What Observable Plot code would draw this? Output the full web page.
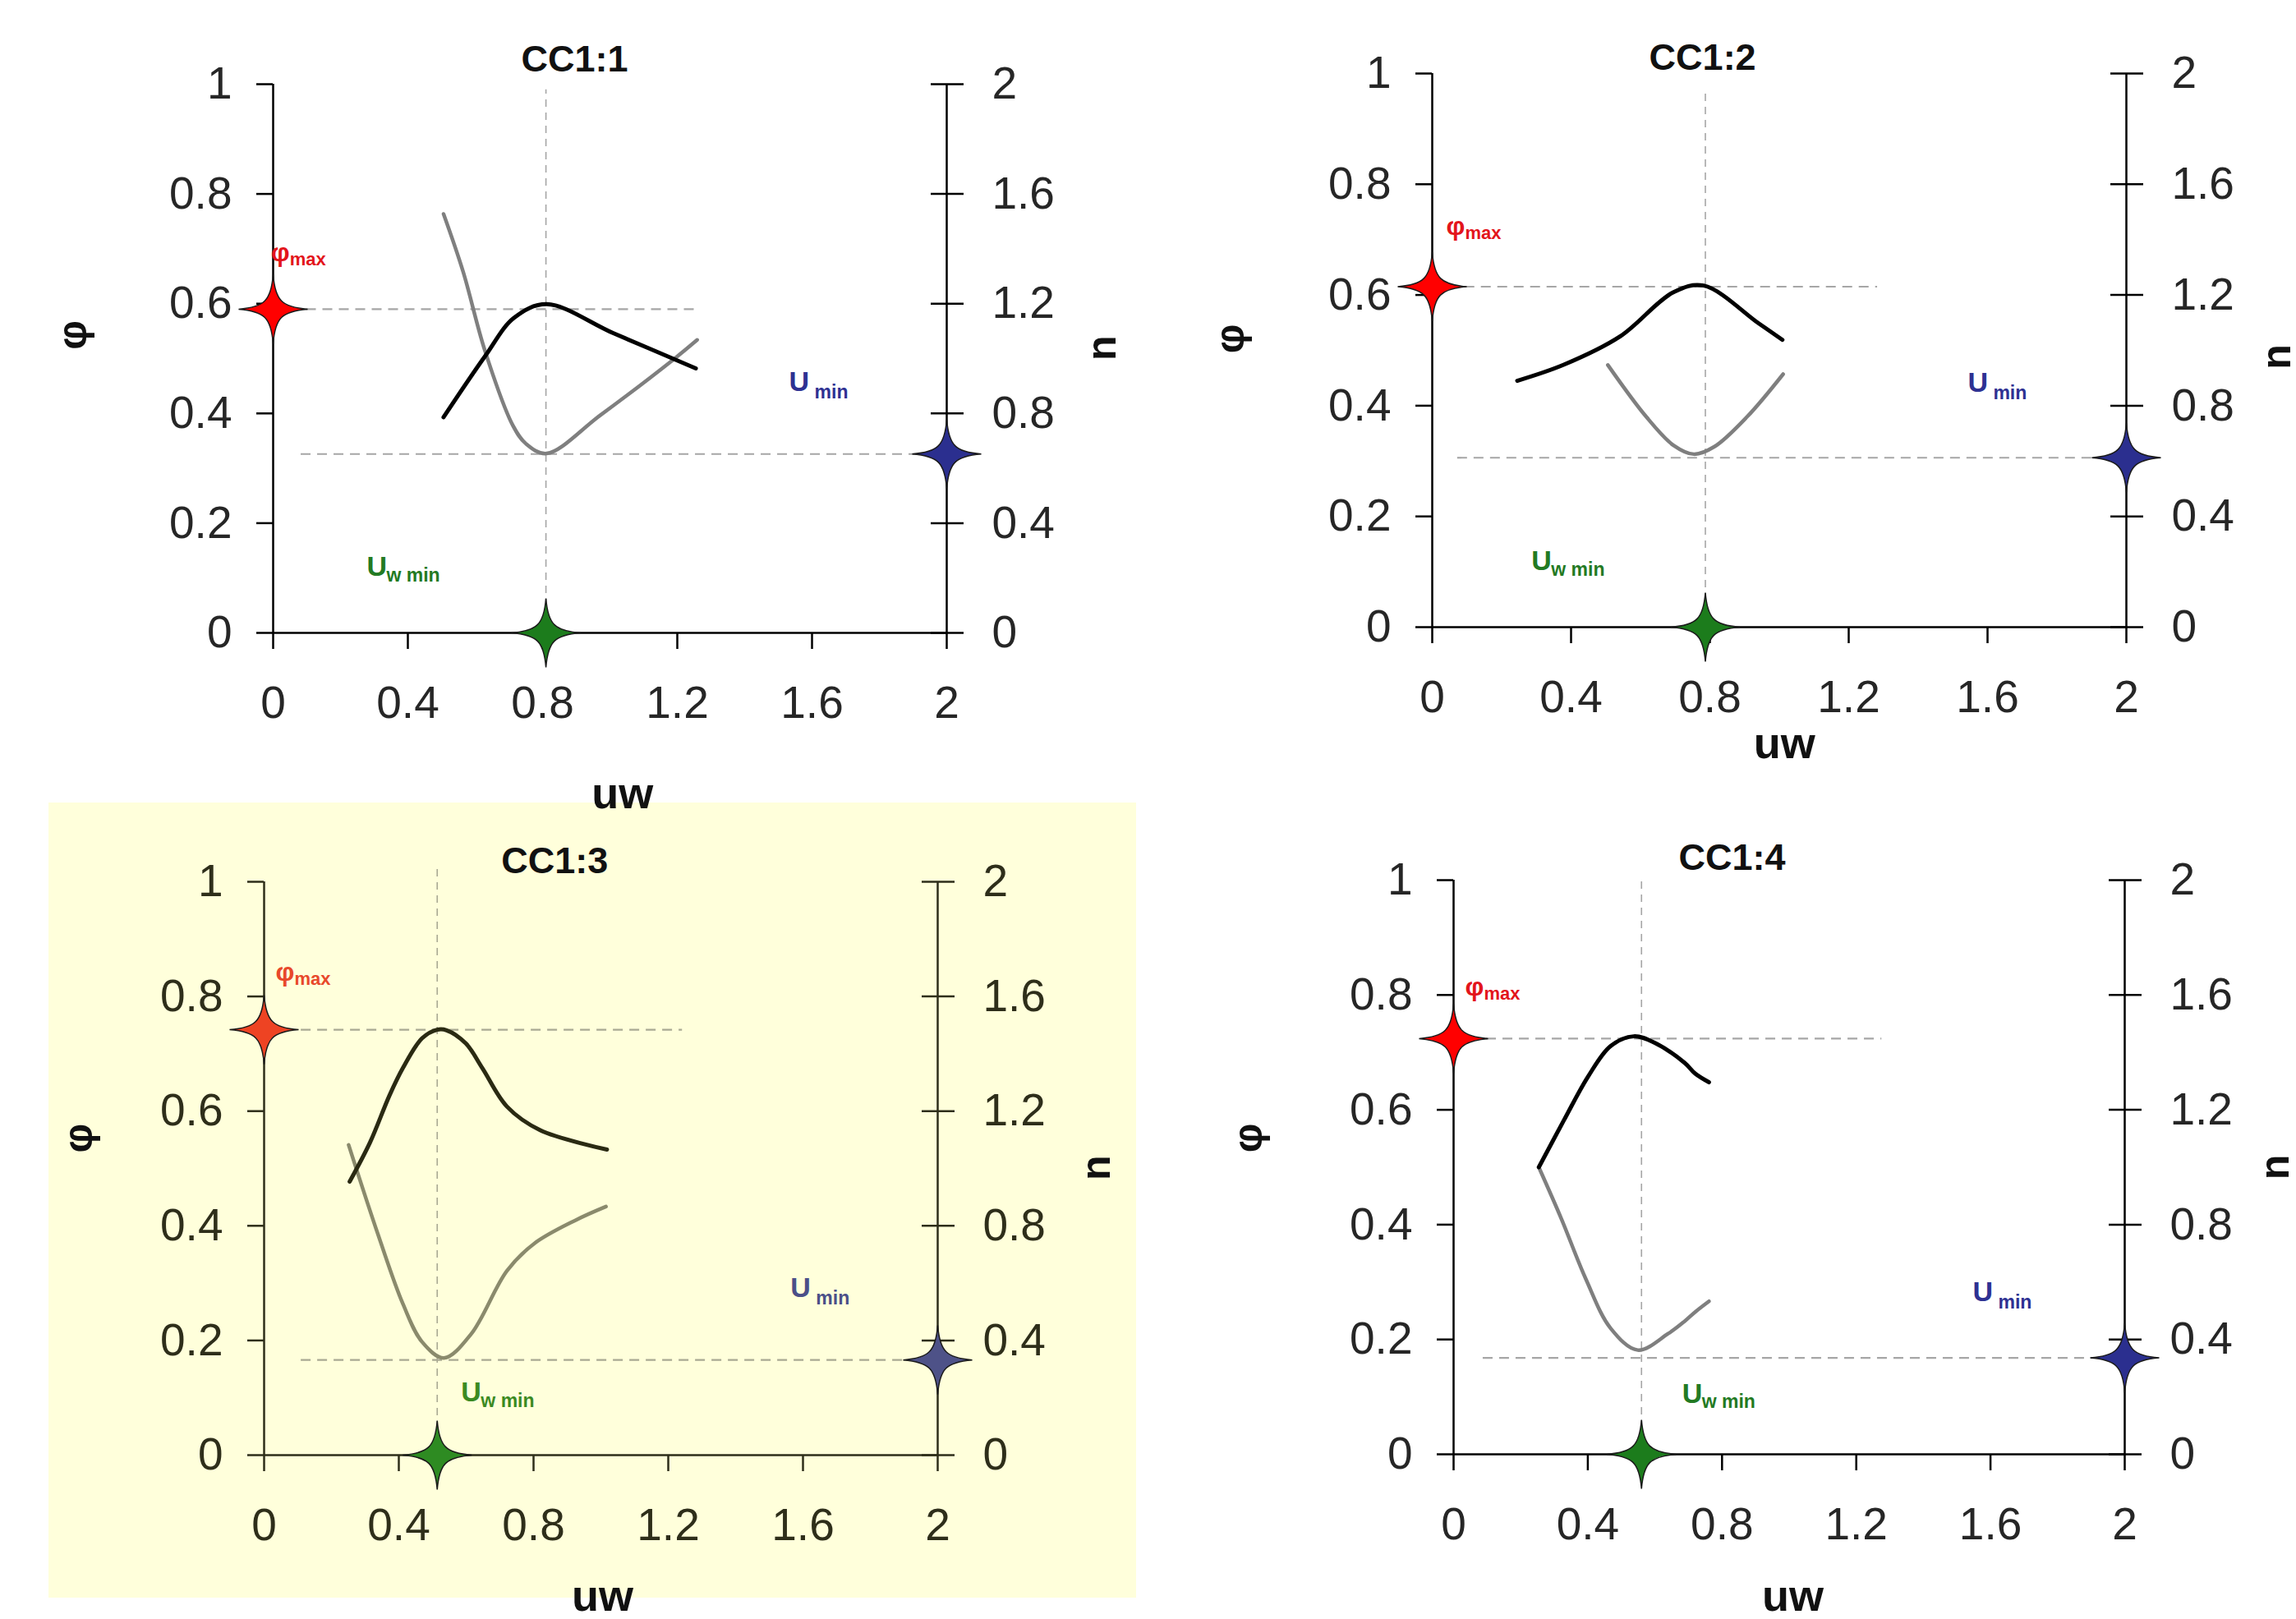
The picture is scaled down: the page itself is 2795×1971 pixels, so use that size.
<!DOCTYPE html>
<html>
<head>
<meta charset="utf-8">
<script src="https://cdn.jsdelivr.net/npm/d3@7"></script>
<script src="https://cdn.jsdelivr.net/npm/@observablehq/plot@0.6"></script>
<style>
  html, body { margin: 0; padding: 0; background: #ffffff; width: 2795px; height: 1971px; overflow: hidden; position: relative; }
  .panel { position: absolute; }
</style>
</head>
<body>
<div id="p3" class="panel"></div>
<div id="p4" class="panel"></div>
<div id="p1" class="panel"></div>
<div id="p2" class="panel"></div>
<script>
// ---------------- DATA ----------------
const titles = ["CC1:1", "CC1:2", "CC1:3", "CC1:4"];
const uwTicks = [0, 0.4, 0.8, 1.2, 1.6, 2];
const phiTicks = [0, 0.2, 0.4, 0.6, 0.8, 1];
const nTicks = [0, 0.4, 0.8, 1.2, 1.6, 2];

// CC1:1
const uw1Phi = [0.506, 0.629, 0.715, 0.812, 1.011, 1.255];
const phi1   = [0.393, 0.504, 0.574, 0.599, 0.546, 0.482];
const uw1N   = [0.506, 0.564, 0.629, 0.711, 0.751, 0.812, 0.971, 1.19, 1.259];
const n1     = [1.527, 1.317, 1.028, 0.758, 0.689, 0.654, 0.793, 0.998, 1.068];
// CC1:2
const uw2Phi = [0.245, 0.379, 0.541, 0.695, 0.782, 0.94, 1.009];
const phi2   = [0.445, 0.474, 0.525, 0.605, 0.617, 0.549, 0.519];
const uw2N   = [0.506, 0.616, 0.695, 0.754, 0.813, 0.908, 1.011];
const n2     = [0.947, 0.761, 0.657, 0.625, 0.652, 0.761, 0.914];
// CC1:3
const uw3Phi = [0.254, 0.315, 0.372, 0.412, 0.469, 0.514, 0.542, 0.599, 0.648, 0.721, 0.819, 1.018];
const phi3   = [0.477, 0.546, 0.627, 0.675, 0.727, 0.742, 0.741, 0.718, 0.675, 0.608, 0.567, 0.533];
const uw3N   = [0.251, 0.339, 0.412, 0.469, 0.534, 0.615, 0.721, 0.802, 0.924, 1.015];
const n3     = [1.082, 0.767, 0.528, 0.395, 0.339, 0.423, 0.643, 0.738, 0.819, 0.867];
// CC1:4
const uw4Phi = [0.254, 0.329, 0.402, 0.468, 0.537, 0.598, 0.688, 0.72, 0.761];
const phi4   = [0.5, 0.582, 0.659, 0.711, 0.728, 0.717, 0.682, 0.663, 0.648];
const uw4N   = [0.254, 0.321, 0.394, 0.468, 0.549, 0.639, 0.688, 0.72, 0.761];
const n4     = [1.0, 0.821, 0.611, 0.439, 0.363, 0.42, 0.463, 0.496, 0.533];

// optimum markers
const phiMax = [0.59, 0.615, 0.742, 0.724];
const nMin   = [0.652, 0.612, 0.332, 0.336];
const uwMin  = [0.81, 0.787, 0.514, 0.56];

// ---------------- LAYOUT / STYLE ----------------
const plain = {
  bg: "transparent", axis: "#000000", text: "#262626", phiLine: "#000000", nLine: "#7f7f7f",
  dash: "#a6a6a6", starRed: "#ff0000", starBlue: "#2b2f8f", starGreen: "#1c7c1c",
  txtRed: "#e3151b", txtBlue: "#2e3192", txtGreen: "#237a23"
};
const yellow = {
  bg: "#ffffdb", axis: "#2e2e1a", text: "#2e2e1a", phiLine: "#2a2a12", nLine: "#8a8a6c",
  dash: "#a9a993", starRed: "#ee4323", starBlue: "#4e5288", starGreen: "#2e8b22",
  txtRed: "#e8482a", txtBlue: "#4b4f88", txtGreen: "#3b8a22"
};
const layout = [
  { id: "p1", left: 0, top: 0, width: 1398, height: 975, mL: 332, mR: 246, mT: 102, mB: 205, col: plain,
    vTop: 0.99, phiDash: [0.05, 1.256], nDashStart: 0.083,
    title: [0.895, 1.045], phiLab: [-0.593, 0.543], nLab: [2.463, 0.519], uwLab: [1.037, -0.293],
    phiMaxLab: [-0.007, 0.692], uMinLab: [1.532, 0.457], uwMinLab: [0.278, 0.12] },
  { id: "p2", left: 1398, top: 0, width: 1397, height: 975, mL: 345, mR: 207, mT: 89, mB: 212, col: plain,
    vTop: 0.97, phiDash: [0.094, 1.283], nDashStart: 0.073,
    title: [0.779, 1.028], phiLab: [-0.58, 0.521], nLab: [2.435, 0.488], uwLab: [1.015, -0.211],
    phiMaxLab: [0.04, 0.723], uMinLab: [1.543, 0.441], uwMinLab: [0.286, 0.119] },
  { id: "p3", left: 59, top: 977, width: 1324, height: 968, mL: 262, mR: 242, mT: 96, mB: 174, col: yellow,
    vTop: 1.03, phiDash: [0.11, 1.242], nDashStart: 0.11,
    title: [0.863, 1.036], phiLab: [-0.549, 0.553], nLab: [2.473, 0.501], uwLab: [1.005, -0.247],
    phiMaxLab: [0.034, 0.842], uMinLab: [1.563, 0.291], uwMinLab: [0.585, 0.109] },
  { id: "p4", left: 1398, top: 975, width: 1397, height: 996, mL: 371, mR: 209, mT: 96, mB: 201, col: plain,
    vTop: 1.0, phiDash: [0.098, 1.276], nDashStart: 0.088,
    title: [0.83, 1.039], phiLab: [-0.61, 0.551], nLab: [2.45, 0.5], uwLab: [1.011, -0.248],
    phiMaxLab: [0.034, 0.813], uMinLab: [1.547, 0.282], uwMinLab: [0.681, 0.105] }
];
const series = [
  [uw1Phi, phi1, uw1N, n1],
  [uw2Phi, phi2, uw2N, n2],
  [uw3Phi, phi3, uw3N, n3],
  [uw4Phi, phi4, uw4N, n4]
];

// four-pointed star symbol with concave arms
const star4 = {
  draw(ctx, size) {
    const R = Math.sqrt(size / Math.PI), a = R * 0.06, b = R * 0.25;
    ctx.moveTo(0, -R);
    ctx.bezierCurveTo(a, -b, b, -a, R, 0);
    ctx.bezierCurveTo(b, a, a, b, 0, R);
    ctx.bezierCurveTo(-a, b, -b, a, -R, 0);
    ctx.bezierCurveTo(-b, -a, -a, -b, 0, -R);
    ctx.closePath();
  }
};

const fmt = d => String(+d.toFixed(1));
const FONT = "'Liberation Sans', Arial, Helvetica, sans-serif";

layout.forEach((L, i) => {
  const [uP, vP, uN, vN] = series[i];
  const phiData = uP.map((u, k) => ({ uw: u, phi: vP[k] }));
  const nData = uN.map((u, k) => ({ uw: u, n: vN[k] }));
  const C = L.col;
  const dashStyle = { stroke: C.dash, strokeWidth: 2.2, strokeDasharray: "12,8" };
  const axisW = 2.5;

  const label = (pos, txt, opts) => Plot.text([txt], { x: pos[0], y: pos[1], text: d => d, ...opts });

  const chart = Plot.plot({
    width: L.width,
    height: L.height,
    marginLeft: L.mL, marginRight: L.mR, marginTop: L.mT, marginBottom: L.mB,
    x: { domain: [0, 2] },
    y: { domain: [0, 1] },
    style: { background: C.bg, color: C.text, fontFamily: FONT, overflow: "visible" },
    marks: [
      // guide lines
      Plot.ruleX([uwMin[i]], { y1: 0, y2: L.vTop, ...dashStyle, strokeWidth: 1.6, strokeDasharray: "9,7" }),
      Plot.ruleY([phiMax[i]], { x1: L.phiDash[0], x2: L.phiDash[1], ...dashStyle }),
      Plot.ruleY([nMin[i]], { y: d => d / 2, x1: L.nDashStart, x2: 2, ...dashStyle }),
      // axis lines
      Plot.ruleX([0, 2], { y1: 0, y2: 1, stroke: C.axis, strokeWidth: axisW }),
      Plot.ruleY([0], { x1: 0, x2: 2, stroke: C.axis, strokeWidth: axisW }),
      // axes
      Plot.axisX({ ticks: uwTicks, tickSize: 20, tickPadding: 44, tickFormat: fmt, label: null,
        fontSize: 55, stroke: C.axis, fill: C.text, strokeWidth: axisW }),
      Plot.axisY({ anchor: "left", ticks: phiTicks, tickSize: 20, tickPadding: 30, tickFormat: fmt, label: null,
        fontSize: 55, stroke: C.axis, fill: C.text, strokeWidth: axisW }),
      Plot.axisY({ anchor: "right", ticks: nTicks.map(n => n / 2), tickSize: 40, dx: -20, tickFormat: () => "",
        label: null, stroke: C.axis, strokeWidth: axisW }),
      Plot.axisY({ anchor: "right", ticks: nTicks.map(n => n / 2), tickSize: 0, tickPadding: 55,
        tickFormat: d => fmt(d * 2), label: null, fontSize: 55, fill: C.text }),
      // curves
      Plot.line(nData, { x: "uw", y: d => d.n / 2, stroke: C.nLine, strokeWidth: 4.5, curve: "catmull-rom" }),
      Plot.line(phiData, { x: "uw", y: "phi", stroke: C.phiLine, strokeWidth: 5, curve: "catmull-rom" }),
      // stars
      Plot.dot([phiMax[i]], { x: 0, y: d => d, r: 42, symbol: star4, fill: C.starRed, stroke: "#1a1a1a", strokeWidth: 1.5 }),
      Plot.dot([nMin[i]], { x: 2, y: d => d / 2, r: 42, symbol: star4, fill: C.starBlue, stroke: "#1a1a1a", strokeWidth: 1.5 }),
      Plot.dot([uwMin[i]], { x: d => d, y: 0, r: 42, symbol: star4, fill: C.starGreen, stroke: "#1a1a1a", strokeWidth: 1.5 }),
      // titles and axis titles
      label(L.title, titles[i], { fontSize: 45, fontWeight: "bold", fill: "#111" }),
      label(L.phiLab, "φ", { fontSize: 50, fontWeight: "bold", fill: "#111", rotate: -90 }),
      label(L.nLab, "n", { fontSize: 50, fontWeight: "bold", fill: "#111", rotate: -90 }),
      label(L.uwLab, "uw", { fontSize: 54, fontWeight: "bold", fill: "#111" }),
      // annotations
      label(L.phiMaxLab, "φ", { textAnchor: "start", fontSize: 32, fontWeight: "bold", fill: C.txtRed }),
      label(L.phiMaxLab, "max", { textAnchor: "start", dx: 23, dy: 8, fontSize: 22, fontWeight: "bold", fill: C.txtRed }),
      label(L.uMinLab, "U", { textAnchor: "start", fontSize: 34, fontWeight: "bold", fill: C.txtBlue }),
      label(L.uMinLab, "min", { textAnchor: "start", dx: 31, dy: 12, fontSize: 23, fontWeight: "bold", fill: C.txtBlue }),
      label(L.uwMinLab, "U", { textAnchor: "start", fontSize: 34, fontWeight: "bold", fill: C.txtGreen }),
      label(L.uwMinLab, "w min", { textAnchor: "start", dx: 24, dy: 10, fontSize: 23, fontWeight: "bold", fill: C.txtGreen })
    ]
  });
  const host = document.getElementById(L.id);
  host.style.left = L.left + "px";
  host.style.top = L.top + "px";
  host.style.width = L.width + "px";
  host.style.height = L.height + "px";
  host.appendChild(chart);
});
</script>
</body>
</html>
